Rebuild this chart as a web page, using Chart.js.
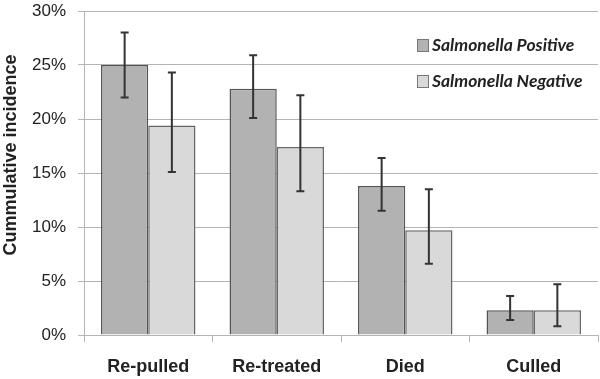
<!DOCTYPE html>
<html lang="en">
	<head>
		<meta charset="UTF-8" />
		<title>Cummulative incidence</title>
		<script src="https://cdn.jsdelivr.net/npm/chart.js"></script>
		<style>
			html, body { margin: 0; padding: 0; background: #fff; }
			#wrap { width: 600px; height: 379px; }
		</style>
	</head>
	<body>
		<div id="wrap"><canvas id="chart"></canvas></div>
		<script>
			// values (percent)
			const categories = ["Re-pulled", "Re-treated", "Died", "Culled"];
			const seriesNames = ["Salmonella Positive", "Salmonella Negative"];
			const positive = [25.0, 22.8, 13.8, 2.3];
			const positiveLow = [22.0, 20.1, 11.5, 1.4];
			const positiveHigh = [28.0, 25.9, 16.4, 3.6];
			const negative = [19.4, 17.4, 9.7, 2.3];
			const negativeLow = [15.1, 13.3, 6.6, 0.8];
			const negativeHigh = [24.3, 22.2, 13.5, 4.7];
			const yTicks = [0, 5, 10, 15, 20, 25, 30];

			const gridGray = "#b4b4b4";

			// whiskers drawn through the y scale
			const errorBars = {
				id: "errorBars",
				afterDatasetsDraw(chart) {
					const ctx = chart.ctx;
					const y = chart.scales.y;
					ctx.save();
					ctx.strokeStyle = "#333";
					ctx.lineWidth = 2;
					chart.data.datasets.forEach((ds, i) => {
						const meta = chart.getDatasetMeta(i);
						meta.data.forEach((bar, j) => {
							const top = y.getPixelForValue(ds.errHigh[j]);
							const bot = y.getPixelForValue(ds.errLow[j]);
							ctx.beginPath();
							ctx.moveTo(bar.x, top);
							ctx.lineTo(bar.x, bot);
							ctx.moveTo(bar.x - 4, top);
							ctx.lineTo(bar.x + 4, top);
							ctx.moveTo(bar.x - 4, bot);
							ctx.lineTo(bar.x + 4, bot);
							ctx.stroke();
						});
					});
					ctx.restore();
				},
			};

			// legend in the top right and rotated y title
			const extras = {
				id: "extras",
				afterDraw(chart) {
					const ctx = chart.ctx;
					ctx.save();
					chart.data.datasets.forEach((ds, i) => {
						const by = 39 + i * 36;
						ctx.fillStyle = ds.backgroundColor;
						ctx.fillRect(417, by, 11, 12);
						ctx.strokeStyle = "#777";
						ctx.lineWidth = 1;
						ctx.strokeRect(417.5, by + 0.5, 11, 12);
						ctx.fillStyle = "#222";
						ctx.font = "italic bold 17.5px Lato";
						ctx.textBaseline = "middle";
						ctx.fillText(ds.label, 432, by + 6.5);
					});
					ctx.translate(11, 155);
					ctx.rotate(-Math.PI / 2);
					ctx.font = "bold 18px 'Liberation Sans', Arial";
					ctx.fillStyle = "#222";
					ctx.textAlign = "center";
					ctx.textBaseline = "middle";
					ctx.fillText("Cummulative incidence", 0, 0);
					ctx.restore();
				},
			};

			new Chart(document.getElementById("chart"), {
				type: "bar",
				data: {
					labels: categories,
					datasets: [
						{
							label: seriesNames[0],
							data: positive,
							errLow: positiveLow,
							errHigh: positiveHigh,
							backgroundColor: "#b2b2b2",
							borderColor: "#555",
							borderWidth: 1.5,
						},
						{
							label: seriesNames[1],
							data: negative,
							errLow: negativeLow,
							errHigh: negativeHigh,
							backgroundColor: "#d9d9d9",
							borderColor: "#666",
							borderWidth: 1.5,
						},
					],
				},
				options: {
					responsive: true,
					maintainAspectRatio: false,
					animation: false,
					categoryPercentage: 0.735,
					barPercentage: 1,
					layout: { padding: { top: 11, right: 2, left: 0, bottom: 0 } },
					plugins: {
						legend: { display: false },
						tooltip: { enabled: false },
					},
					scales: {
						x: {
							offset: true,
							afterFit(scale) { scale.height = 44; },
							grid: {
								offset: true,
								color: (c) => (c.index === 0 || c.index === categories.length ? gridGray : "transparent"),
								tickColor: gridGray,
								tickLength: 7,
							},
							border: { color: gridGray },
							ticks: {
								color: "#222",
								padding: 14,
								font: { family: "'Liberation Sans', Arial", size: 18, weight: "bold" },
							},
						},
						y: {
							min: 0,
							max: 30,
							afterFit(scale) {
								scale.width = 84;
								scale.paddingTop = 0;
								scale.paddingBottom = 0;
							},
							afterBuildTicks(scale) { scale.ticks = yTicks.map((v) => ({ value: v })); },
							grid: { color: gridGray, tickLength: 6 },
							border: { color: gridGray },
							ticks: {
								color: "#222",
								padding: 12,
								font: { family: "'Liberation Sans', Arial", size: 17 },
								callback: (v) => v + "%",
							},
						},
					},
				},
				plugins: [errorBars, extras],
			});
		</script>
	</body>
</html>
